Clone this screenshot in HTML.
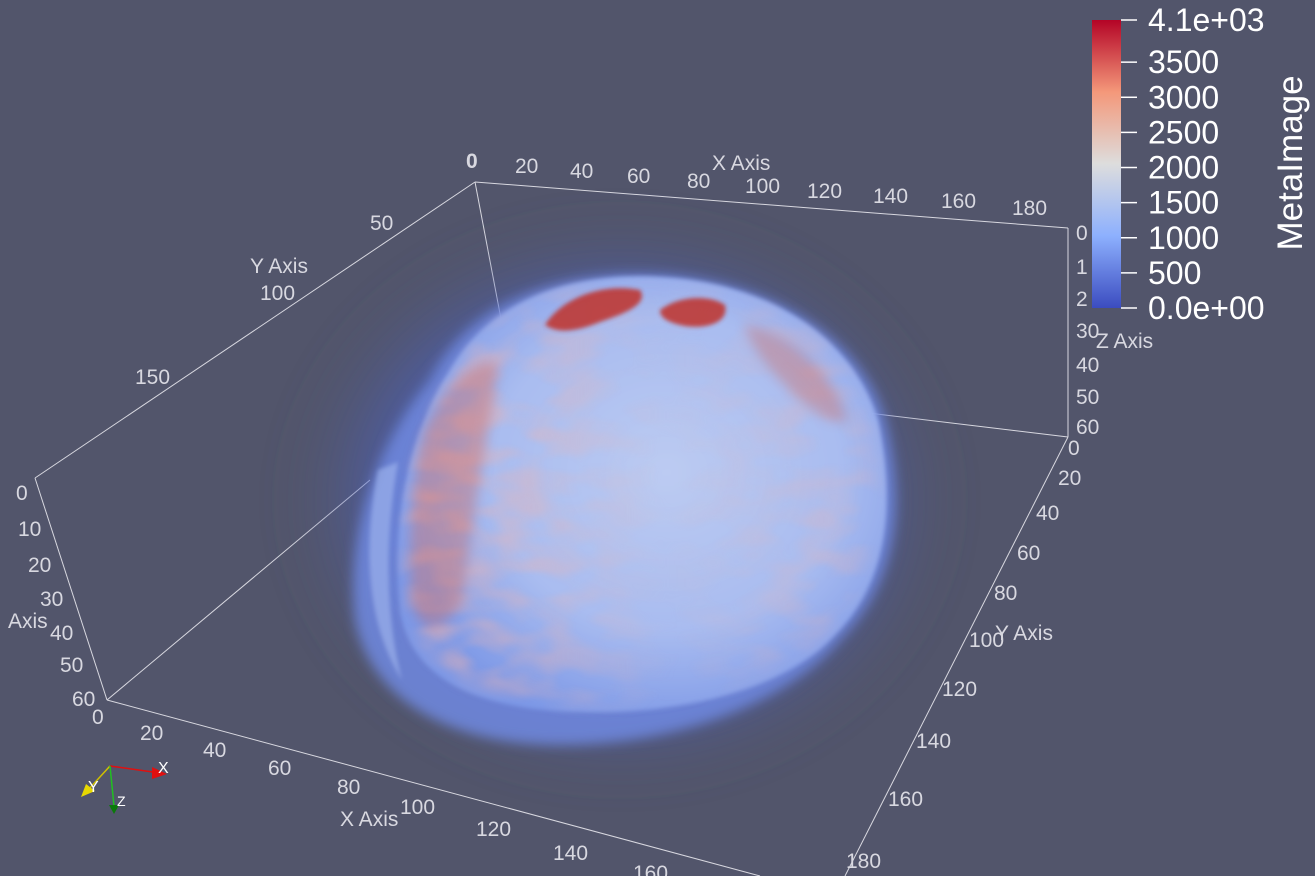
<!DOCTYPE html>
<html><head><meta charset="utf-8"><style>
html,body{margin:0;padding:0;background:#52556b;}
svg{display:block;font-family:"Liberation Sans","DejaVu Sans",sans-serif;}
</style></head><body>
<svg id="s" width="1315" height="876" viewBox="0 0 1315 876">
<defs>
<linearGradient id="cbar" x1="0" y1="1" x2="0" y2="0">
<stop offset="0" stop-color="#3b4cc0"/><stop offset="0.25" stop-color="#8db0fe"/><stop offset="0.5" stop-color="#dddddd"/><stop offset="0.75" stop-color="#f4987a"/><stop offset="1" stop-color="#b40426"/>
</linearGradient>
<radialGradient id="halo" cx="0.5" cy="0.5" r="0.5">
<stop offset="0" stop-color="#4a68d8" stop-opacity="0.75"/><stop offset="0.7" stop-color="#4a62cc" stop-opacity="0.5"/><stop offset="1" stop-color="#52556b" stop-opacity="0"/>
</radialGradient>
<radialGradient id="brain" cx="0.55" cy="0.45" r="0.6">
<stop offset="0" stop-color="#bccbf2"/><stop offset="0.6" stop-color="#a9bcf0"/><stop offset="1" stop-color="#7d98e6"/>
</radialGradient>
<filter id="b6"><feGaussianBlur stdDeviation="6"/></filter>
<filter id="b20"><feGaussianBlur stdDeviation="20"/></filter>
<filter id="b3"><feGaussianBlur stdDeviation="2"/></filter>
<filter id="b8"><feGaussianBlur stdDeviation="8"/></filter>
<filter id="tex" x="0" y="0" width="100%" height="100%">
<feTurbulence type="fractalNoise" baseFrequency="0.02 0.04" numOctaves="2" seed="4" result="n"/>
<feColorMatrix in="n" type="matrix" values="0 0 0 0 0.82  0 0 0 0 0.45  0 0 0 0 0.45  0 0 0 -3.2 2.0"/>
<feGaussianBlur stdDeviation="1.5"/>
</filter>
<mask id="bm"><path d="M455,375 C495,305 570,280 660,284 C760,290 845,335 870,420 C885,500 880,575 828,628 C780,680 680,705 585,703 C485,700 418,672 410,605 C400,520 418,432 455,375 Z" fill="#fff" filter="url(#b8)"/></mask>
<linearGradient id="redmask" x1="0" y1="0" x2="1" y2="0">
<stop offset="0" stop-color="#fff"/><stop offset="0.3" stop-color="#fff" stop-opacity="0.6"/><stop offset="0.55" stop-color="#fff" stop-opacity="0.05"/><stop offset="0.85" stop-color="#fff" stop-opacity="0.45"/><stop offset="1" stop-color="#fff" stop-opacity="0.2"/>
</linearGradient>
<mask id="rm"><rect x="380" y="270" width="520" height="460" fill="url(#redmask)"/></mask>
</defs>
<rect width="1315" height="876" fill="#52556b"/>
<g stroke="#d8d8e0" stroke-width="1" fill="none">
<line x1="475" y1="182" x2="1068" y2="228"/>
<line x1="475" y1="182" x2="35" y2="478"/>
<line x1="475" y1="182" x2="505" y2="340"/>
<line x1="1068" y1="228" x2="1068" y2="437"/>
<line x1="1068" y1="437" x2="860" y2="412"/>
<line x1="35" y1="478" x2="107" y2="700"/>
<line x1="107" y1="700" x2="760" y2="876"/>
<line x1="1068" y1="437" x2="845" y2="876"/>
<line x1="107" y1="700" x2="370" y2="480"/>
</g>
<g>
<ellipse cx="620" cy="500" rx="340" ry="290" fill="url(#halo)" filter="url(#b20)"/>
<path d="M430,380 C470,300 560,270 660,275 C760,280 860,330 885,420 C905,500 900,580 840,640 C790,700 680,745 560,745 C450,745 370,700 355,620 C345,530 380,440 430,380 Z" fill="#6f89e0" opacity="0.85" filter="url(#b6)"/>
<path d="M378,470 C364,540 364,620 402,680 C386,620 384,540 398,462Z" fill="#a8bdf2" opacity="0.55" filter="url(#b3)"/>
<path d="M450,370 C490,300 570,272 660,277 C760,282 850,330 878,420 C895,500 890,580 835,635 C785,690 680,715 580,712 C480,710 410,680 400,610 C390,520 410,430 450,370 Z" fill="url(#brain)" filter="url(#b3)"/>
<g mask="url(#bm)">
<g mask="url(#rm)"><rect x="380" y="270" width="520" height="460" filter="url(#tex)" opacity="0.6"/></g>
</g>
<g fill="#d06a60" opacity="0.4" filter="url(#b6)">
<path d="M425,430 C445,385 480,355 498,365 C490,420 472,520 462,600 C445,635 418,635 412,600 C408,540 412,480 425,430Z"/>
<path d="M745,325 C790,335 828,365 848,420 C828,428 800,400 780,380 C762,362 750,342 745,325Z"/>
</g>
<g fill="#c0302a" opacity="0.85" filter="url(#b3)">
<path d="M545,325 C560,300 600,282 640,290 C650,305 620,315 600,322 C580,330 560,335 545,325Z"/>
<path d="M660,310 C680,295 710,295 725,305 C730,325 700,330 680,325 C668,322 660,318 660,310Z"/>
</g>
</g>
<g fill="#d8d8e0" font-size="21">
<text x="466" y="168" font-weight="bold">0</text><text x="515" y="173">20</text><text x="570" y="178">40</text><text x="627" y="183">60</text><text x="687" y="188">80</text><text x="745" y="193">100</text><text x="807" y="198">120</text><text x="873" y="203">140</text><text x="941" y="208">160</text><text x="1012" y="215">180</text>
<text x="712" y="170">X Axis</text>
</g>
<g fill="#d8d8e0" font-size="21">
<text x="370" y="230">50</text><text x="250" y="273">Y Axis</text><text x="260" y="300">100</text><text x="135" y="384">150</text>
</g>
<g fill="#d8d8e0" font-size="21">
<text x="1076" y="240">0</text><text x="1076" y="274">1</text><text x="1076" y="306">2</text><text x="1076" y="338">30</text><text x="1096" y="348">Z Axis</text><text x="1076" y="372">40</text><text x="1076" y="404">50</text><text x="1076" y="434">60</text>
</g>
<g fill="#d8d8e0" font-size="21">
<text x="16" y="500">0</text><text x="18" y="536">10</text><text x="28" y="572">20</text><text x="40" y="606">30</text><text x="8" y="628">Axis</text><text x="50" y="640">40</text><text x="60" y="672">50</text><text x="72" y="706">60</text>
</g>
<g fill="#d8d8e0" font-size="21">
<text x="92" y="724">0</text><text x="140" y="740">20</text><text x="203" y="757">40</text><text x="268" y="775">60</text><text x="337" y="794">80</text><text x="340" y="826">X Axis</text><text x="400" y="814">100</text><text x="476" y="836">120</text><text x="553" y="860">140</text><text x="633" y="880">160</text>
</g>
<g fill="#d8d8e0" font-size="21">
<text x="1068" y="455">0</text><text x="1058" y="485">20</text><text x="1036" y="520">40</text><text x="1017" y="560">60</text><text x="994" y="600">80</text><text x="995" y="640">Y Axis</text><text x="969" y="647">100</text><text x="942" y="696">120</text><text x="916" y="748">140</text><text x="888" y="806">160</text><text x="846" y="868">180</text>
</g>
<g id="cb">
<rect x="1092" y="20" width="29" height="288" fill="url(#cbar)"/>
<text x="1302" y="163" fill="#fff" font-size="35" text-anchor="middle" transform="rotate(-90 1302 163)">MetaImage</text>
</g>
<g>
<line x1="110" y1="766" x2="160" y2="773" stroke="#e01010" stroke-width="1.5"/><polygon points="152,767 167,774 152,779" fill="#e01010"/>
<line x1="110" y1="766" x2="88" y2="790" stroke="#d0c000" stroke-width="1.5"/><polygon points="81,797 86,784 95,791" fill="#e8d800"/>
<line x1="110" y1="766" x2="114" y2="806" stroke="#20c020" stroke-width="1.5"/><polygon points="109,805 119,805 114,814" fill="#0a7a0a"/>
<text x="158" y="773" fill="#fff" font-size="16">X</text><text x="88" y="792" fill="#fff" font-size="16">Y</text><text x="117" y="806" fill="#fff" font-size="14">Z</text>
</g>
</svg>
<script>
const cbTickValues=[4100,3500,3000,2500,2000,1500,1000,500,0];
const cbTickLabels=["4.1e+03","3500","3000","2500","2000","1500","1000","500","0.0e+00"];
const cbMin=0,cbMax=4100;
const NS="http://www.w3.org/2000/svg";
const g=document.getElementById('cb');
function yScale(v){return 308-(v-cbMin)/(cbMax-cbMin)*288;}
cbTickValues.forEach((v,i)=>{
  const y=yScale(v);
  const l=document.createElementNS(NS,'line');
  l.setAttribute('x1',1121);l.setAttribute('x2',1137);l.setAttribute('y1',y);l.setAttribute('y2',y);
  l.setAttribute('stroke','#fff');l.setAttribute('stroke-width','1.5');
  
  
  g.appendChild(l);
  const t=document.createElementNS(NS,'text');
  t.setAttribute('x',1148);t.setAttribute('y',y+11);t.setAttribute('fill','#fff');t.setAttribute('font-size','32');
  t.textContent=cbTickLabels[i];
  
  
  g.appendChild(t);
});
</script>
</body></html>
